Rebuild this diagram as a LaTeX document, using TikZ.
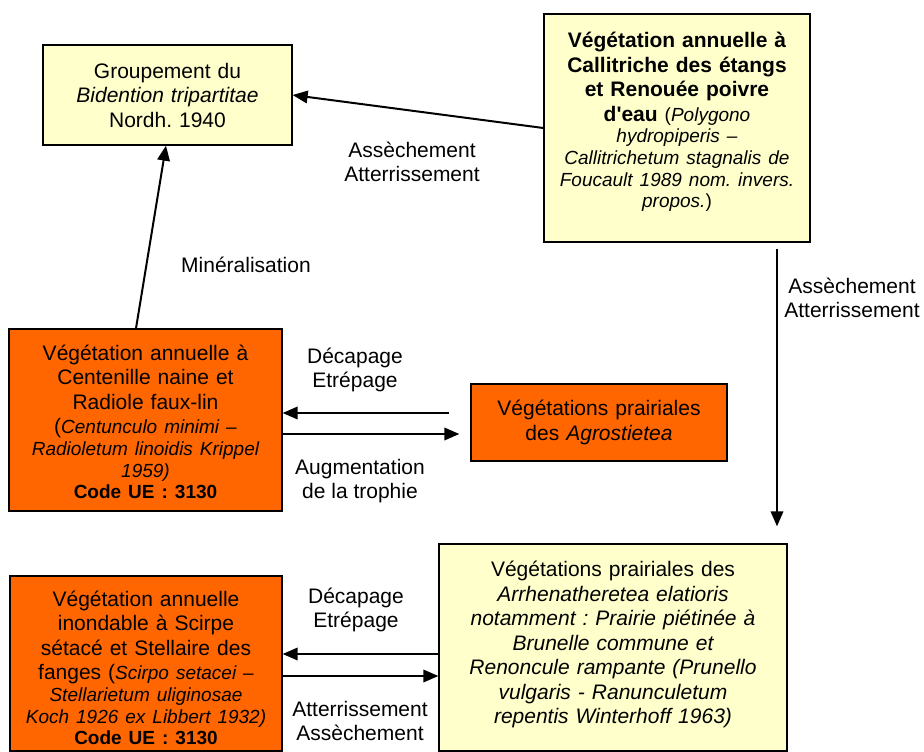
\documentclass[tikz,border=0pt]{standalone}
\usepackage{fontspec}
\setmainfont{Liberation Sans}
\usetikzlibrary{arrows.meta}
\definecolor{lightyel}{HTML}{FFFFCC}
\definecolor{orangeF}{HTML}{FF6600}
\newcommand\FontN{\fontsize{21}{24.5}\selectfont}
\newcommand\FontS{\fontsize{19}{21.7}\selectfont}
\frenchspacing
\tikzset{
  box/.style={draw=black, line width=1.3pt, inner sep=0pt, align=center, font=\FontN},
  yel/.style={box, fill=lightyel},
  ora/.style={box, fill=orangeF},
  boxtext/.style={align=center, inner sep=0pt, font=\FontN},
  arr/.style={line width=2pt, -{Triangle[length=15pt,width=12.5pt]}},
  lbl/.style={align=center, inner sep=0pt, font=\FontN},
}
\begin{document}
\frenchspacing
\begin{tikzpicture}[x=1pt,y=-1pt]
\useasboundingbox (0,0) rectangle (924,752);

% boxes
\node[yel, minimum width=249pt, minimum height=100pt, text width=240pt] (b1) at (167.5,95)
  {Groupement du\\ \textit{Bidention tripartitae}\\ Nordh. 1940};

\node[yel, minimum width=266pt, minimum height=228pt] (b2) at (677,128) {};
\node[boxtext, text width=258pt] (b2t) at (677,122)
  {\bfseries Végétation annuelle à\\ Callitriche des étangs\\ et Renouée poivre\\
   d\textquotesingle eau {\mdseries\FontS (\textit{Polygono}}\\
   \mdseries\FontS\itshape hydropiperis –\\ Callitrichetum stagnalis de\\
   Foucault 1989 nom. invers.\\ propos.\upshape)\par};

\node[ora, minimum width=273pt, minimum height=182pt] (b3) at (145.5,420) {};
\node[boxtext, text width=266pt] (b3t) at (145.5,422)
  {Végétation annuelle à\\ Centenille naine et\\ Radiole faux-lin\\
   ({\FontS\itshape Centunculo minimi –}\\
   \FontS\itshape Radioletum linoidis Krippel\\ 1959)\\
   \upshape\bfseries Code UE : 3130\par};

\node[ora, minimum width=256pt, minimum height=77pt, text width=250pt] (b4) at (599,422.5)
  {Végétations prairiales\\ des \textit{Agrostietea}};

\node[yel, minimum width=348pt, minimum height=207pt] (b5) at (613,647.5) {};
\node[boxtext, text width=340pt] (b5t) at (613,644.5)
  {Végétations prairiales des\\ \itshape Arrhenatheretea elatioris\\
   notamment : Prairie piétinée à\\ Brunelle commune et\\
   Renoncule rampante (Prunello\\ vulgaris - Ranunculetum\\
   repentis Winterhoff 1963)};

\node[ora, minimum width=272pt, minimum height=175pt] (b6) at (146,663.5) {};
\node[boxtext, text width=266pt] (b6t) at (146,668)
  {Végétation annuelle\\ inondable à Scirpe\\ sétacé et Stellaire des\\
   fanges ({\FontS\itshape Scirpo setacei –}\\
   \FontS\itshape Stellarietum uliginosae\\ Koch 1926 ex Libbert 1932)\\
   \upshape\bfseries Code UE : 3130\par};

% connectors
\draw[arr] (b2.west) -- (b1.east);
\draw[arr] ([xshift=-9.5pt]b3.north) -- ([xshift=-1.5pt]b1.south);
\draw[arr] ([shift={(100pt,-6pt)}]b2.south) -- ([shift={(164pt,17pt)}]b5.north);
\draw[arr] ([shift={(-21pt,9.5pt)}]b4.west) -- ([yshift=7pt]b3.east);
\draw[arr] ([yshift=-14pt]b3.east) -- ([shift={(-11pt,-11.5pt)}]b4.west);
\draw[arr] ([yshift=-6.5pt]b5.west) -- ([yshift=9.5pt]b6.east);
\draw[arr] ([yshift=-12.5pt]b6.east) -- ([yshift=-28.5pt]b5.west);

% labels
\node[lbl] (l1) at (412,162) {Assèchement\\Atterrissement};
\node[lbl] (l2) at (246,265) {Minéralisation};
\node[lbl] (l3) at (852,298) {Assèchement\\Atterrissement};
\node[lbl] (l4) at (355,370) {Décapage\\Etrépage};
\node[lbl] (l5) at (360,481) {Augmentation\\de la trophie};
\node[lbl] (l6) at (356,610) {Décapage\\Etrépage};
\node[lbl] (l7) at (360,721) {Atterrissement\\Assèchement};
\end{tikzpicture}
\end{document}
